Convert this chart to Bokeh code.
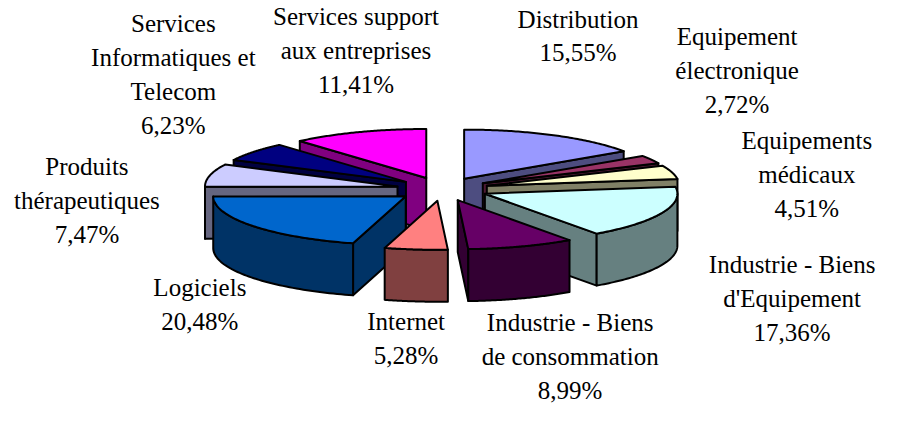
import numpy as np
from bokeh.plotting import figure
from bokeh.models import Range1d, ColumnDataSource
from bokeh.embed import file_html
from bokeh.resources import INLINE

# ---- data ----
categories = [
    "Distribution",
    "Equipement\nélectronique",
    "Equipements\nmédicaux",
    "Industrie - Biens\nd'Equipement",
    "Industrie - Biens\nde consommation",
    "Internet",
    "Logiciels",
    "Produits\nthérapeutiques",
    "Services\nInformatiques et\nTelecom",
    "Services support\naux entreprises",
]
values = [15.55, 2.72, 4.51, 17.36, 8.99, 5.28, 20.48, 7.47, 6.23, 11.41]
top_colors = ["#9999FF", "#993366", "#FFFFCC", "#CCFFFF", "#660066",
              "#FF8080", "#0066CC", "#CCCCFF", "#000080", "#FF00FF"]
side_colors = ["#4D4D80", "#4D1A33", "#808066", "#668080", "#330033",
               "#804040", "#003366", "#666680", "#000040", "#800080"]

# ---- layout (label anchors, pixel space of the 897x421 reference) ----
label_pos = [(588, 37), (750, 73), (821, 181), (806, 310), (580, 370),
             (413, 351), (203, 316), (88, 208), (176, 77), (362, 52)]

W, H = 881, 405
p = figure(width=W, height=H, x_range=Range1d(0, 897), y_range=Range1d(421, 0),
           output_backend="svg", toolbar_location=None, min_border=0)
p.axis.visible = False
p.grid.visible = False
p.outline_line_color = None

cx, cy, R, RY, EX, EY, DEPTH = 450.0, 196.0, 196.0, 51.0, 47.0, 12.2, 54.0

vals = np.array(values, dtype=float)
total = vals.sum()
cum = np.concatenate([[0], np.cumsum(vals)])
phi_start = 90 - 360 * cum[:-1] / total
phi_end = 90 - 360 * cum[1:] / total
phi_mid = (phi_start + phi_end) / 2


def rim(xc, yc, phis, dy=0.0):
    r = np.radians(phis)
    return list(xc + R * np.cos(r)), list(yc - RY * np.sin(r) + dy)


xs, ys, fills = [], [], []
order = np.argsort(-np.sin(np.radians(phi_mid)))
for i in order:
    m = np.radians(phi_mid[i])
    xc = cx + EX * np.cos(m)
    yc = cy - EY * np.sin(m)
    a0, a1 = phi_start[i], phi_end[i]
    # visible radial walls
    for ang, vis in ((a0, np.cos(np.radians(a0)) < 0), (a1, np.cos(np.radians(a1)) > 0)):
        if vis:
            rx, ry_ = rim(xc, yc, [ang])
            xs.append([xc, rx[0], rx[0], xc])
            ys.append([yc, ry_[0], ry_[0] + DEPTH, yc + DEPTH])
            fills.append(side_colors[i])
    # outer wall (front half only)
    lo, hi = max(a1, -180), min(a0, 0)
    if hi > lo:
        ph = np.linspace(hi, lo, 60)
        tx, ty = rim(xc, yc, ph)
        bx, by = rim(xc, yc, ph[::-1], DEPTH)
        xs.append(tx + bx)
        ys.append(ty + by)
        fills.append(side_colors[i])
    # top face
    ph = np.linspace(a0, a1, 80)
    tx, ty = rim(xc, yc, ph)
    xs.append([xc] + tx)
    ys.append([yc] + ty)
    fills.append(top_colors[i])

src = ColumnDataSource(dict(xs=xs, ys=ys, fill=fills))
p.patches("xs", "ys", source=src, fill_color="fill", line_color="black",
          line_width=2, line_join="round")

labels = [c + "\n" + f"{v:.2f}".replace(".", ",") + "%" for c, v in zip(categories, values)]
lsrc = ColumnDataSource(dict(x=[q[0] for q in label_pos], y=[q[1] for q in label_pos],
                             t=labels, f=["Liberation Serif"] * len(labels)))
p.text("x", "y", text="t", source=lsrc, text_font="f",
       text_font_size="25px", text_align="center", text_baseline="middle",
       text_line_height=1.25, text_color="black")

open("out.html", "w").write(file_html(p, INLINE))
